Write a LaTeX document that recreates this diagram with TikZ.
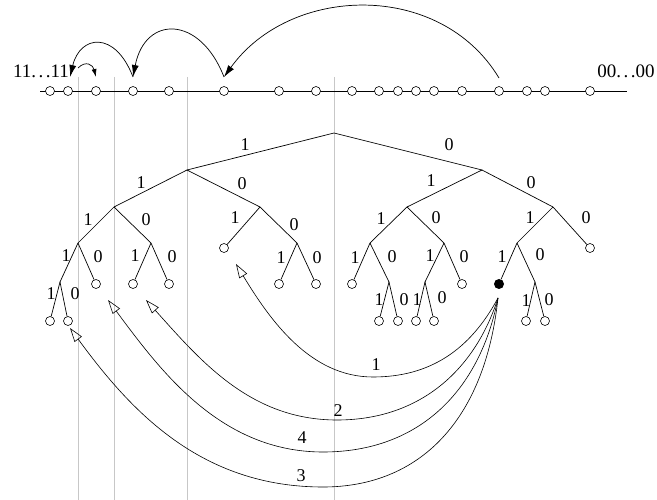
\documentclass[tikz,border=0pt]{standalone}
\usepackage{fontspec}
\setmainfont{Liberation Serif}
\usetikzlibrary{arrows.meta}
\begin{document}
\begin{tikzpicture}[x=1pt,y=-1pt,
  leaf/.style={circle,draw,fill=white,minimum size=9pt,inner sep=0pt,line width=0.6pt},
  dotnode/.style={circle,fill=black,minimum size=10pt,inner sep=0pt},
  edge/.style={line width=0.7pt},
  lab/.style={font=\fontsize{18}{20}\selectfont,inner sep=0pt},
  endlab/.style={font=\fontsize{19}{21}\selectfont,inner sep=0pt},
  guide/.style={draw=black!22,line width=0.8pt},
  jump/.style={line width=0.7pt,-{Latex[length=12pt,width=7pt]}},
  smalljump/.style={line width=0.7pt,-{Latex[length=8pt,width=5pt]}},
  back/.style={line width=0.6pt,-{Triangle[open,length=14pt,width=9pt]}}]
\useasboundingbox (0,0) rectangle (657,500);

% guide lines
\foreach \x [count=\i] in {78,114,187,334}{
  \coordinate (gt\i) at (\x,77);
  \coordinate (gb\i) at (\x,500);
  \draw[guide] (gt\i) -- (gb\i);
}

% top line
\coordinate (lineL) at (40,91);
\coordinate (lineR) at (627,91);
\draw[edge] (lineL) -- (lineR);
\foreach \x in {50,68,96,133,169,224,279,316,352,379,398,416,434,462,499,527,545,590}{
  \node[leaf] (n\x) at (\x,91) {};
}
\node[endlab] (ones) at (41,71) {11.\kern2.5pt.\kern2.5pt.11};
\node[endlab] (zeros) at (626,71) {00.\kern2.5pt.\kern2.5pt.00};

% top jumps
\coordinate (u499) at (499,78);
\coordinate (u224) at (224,77);
\coordinate (u133) at (133,77);
\coordinate (u70) at (70,77);
\coordinate (s78) at (78,68);
\coordinate (u96) at (96,77);
\draw[jump] (u499) .. controls (440,-20) and (290,-15) .. (u224);
\draw[jump] (u224) .. controls (200,15) and (145,15) .. (u133);
\draw[jump] (u133) .. controls (115,30) and (80,35) .. (u70);
\draw[smalljump] (s78) .. controls (86,60) and (93,65) .. (u96);

% tree internal nodes
\coordinate (r) at (334,133);
\coordinate (a) at (187,170);
\coordinate (b) at (482,170);
\coordinate (aa) at (114,207);
\coordinate (ab) at (260,207);
\coordinate (ba) at (407,207);
\coordinate (bb) at (553,207);
\coordinate (aaa) at (78,243);
\coordinate (aab) at (151,243);
\coordinate (abb) at (297,243);
\coordinate (baa) at (370,243);
\coordinate (bab) at (444,243);
\coordinate (bba) at (517,243);
\coordinate (aaaa) at (60,282);
\coordinate (baab) at (389,282);
\coordinate (baba) at (425,282);
\coordinate (bbab) at (535,282);

% leaves
\node[leaf] (aba) at (224,248) {};
\node[leaf] (bbb) at (590,248) {};
\node[leaf] (aaab) at (96,284) {};
\node[leaf] (aaba) at (133,284) {};
\node[leaf] (aabb) at (169,284) {};
\node[leaf] (abba) at (279,284) {};
\node[leaf] (abbb) at (316,284) {};
\node[leaf] (baaa) at (352,284) {};
\node[leaf] (babb) at (462,284) {};
\node[dotnode] (bbaa) at (499,284) {};
\node[leaf] (aaaaa) at (50,321) {};
\node[leaf] (aaaab) at (68,321) {};
\node[leaf] (baaba) at (379,321) {};
\node[leaf] (baabb) at (398,321) {};
\node[leaf] (babaa) at (416,321) {};
\node[leaf] (babab) at (434,321) {};
\node[leaf] (bbaba) at (526,321) {};
\node[leaf] (bbabb) at (545,321) {};

% tree edges
\draw[edge] (r) -- (a); \draw[edge] (r) -- (b);
\draw[edge] (a) -- (aa); \draw[edge] (a) -- (ab);
\draw[edge] (b) -- (ba); \draw[edge] (b) -- (bb);
\draw[edge] (aa) -- (aaa); \draw[edge] (aa) -- (aab);
\draw[edge] (ab) -- (aba); \draw[edge] (ab) -- (abb);
\draw[edge] (ba) -- (baa); \draw[edge] (ba) -- (bab);
\draw[edge] (bb) -- (bba); \draw[edge] (bb) -- (bbb);
\draw[edge] (aaa) -- (aaaa); \draw[edge] (aaa) -- (aaab);
\draw[edge] (aab) -- (aaba); \draw[edge] (aab) -- (aabb);
\draw[edge] (abb) -- (abba); \draw[edge] (abb) -- (abbb);
\draw[edge] (baa) -- (baaa); \draw[edge] (baa) -- (baab);
\draw[edge] (bab) -- (baba); \draw[edge] (bab) -- (babb);
\draw[edge] (bba) -- (bbaa); \draw[edge] (bba) -- (bbab);
\draw[edge] (aaaa) -- (aaaaa); \draw[edge] (aaaa) -- (aaaab);
\draw[edge] (baab) -- (baaba); \draw[edge] (baab) -- (baabb);
\draw[edge] (baba) -- (babaa); \draw[edge] (baba) -- (babab);
\draw[edge] (bbab) -- (bbaba); \draw[edge] (bbab) -- (bbabb);

% edge labels
\foreach \x/\y/\t [count=\i] in {
  245/145/1, 449/145/0,
  141/183/1, 242/184/0, 431/181/1, 531/183/0,
  88/220/1, 146/220/0, 235/218/1, 294/225/0, 381/219/1, 436/218/0, 530/218/1, 586/218/0,
  66/256/1, 98/257/0, 135/256/1, 172/257/0, 281/258/1, 317/258/0,
  355/258/1, 392/257/0, 430/256/1, 464/257/0, 502/257/1, 540/255/0,
  51/294/1, 75/294/0, 379/300/1, 404/300/0, 417/300/1, 442/298/0, 526/301/1, 549/300/0}{
  \node[lab] (el\i) at (\x,\y) {\t};
}

% back arrows
\coordinate (src) at (498,298);
\coordinate (t1) at (236,264);
\coordinate (t2) at (146,300);
\coordinate (t4) at (108,300);
\coordinate (t3) at (70,328);
\draw[back] (src) .. controls (470,350) and (430,377) .. (373,377)
  .. controls (310,377) and (270,320) .. (t1);
\draw[back] (src) .. controls (475,370) and (420,420) .. (337,420)
  .. controls (250,420) and (200,360) .. (t2);
\draw[back] (src) .. controls (480,390) and (420,452) .. (323,452)
  .. controls (220,452) and (160,370) .. (t4);
\draw[back] (src) .. controls (485,420) and (420,487) .. (323,487)
  .. controls (200,487) and (130,410) .. (t3);
\node[lab] (c1) at (376,365) {1};
\node[lab] (c2) at (338,411) {2};
\node[lab] (c4) at (302,438) {4};
\node[lab] (c3) at (301,476) {3};
\end{tikzpicture}
\end{document}
